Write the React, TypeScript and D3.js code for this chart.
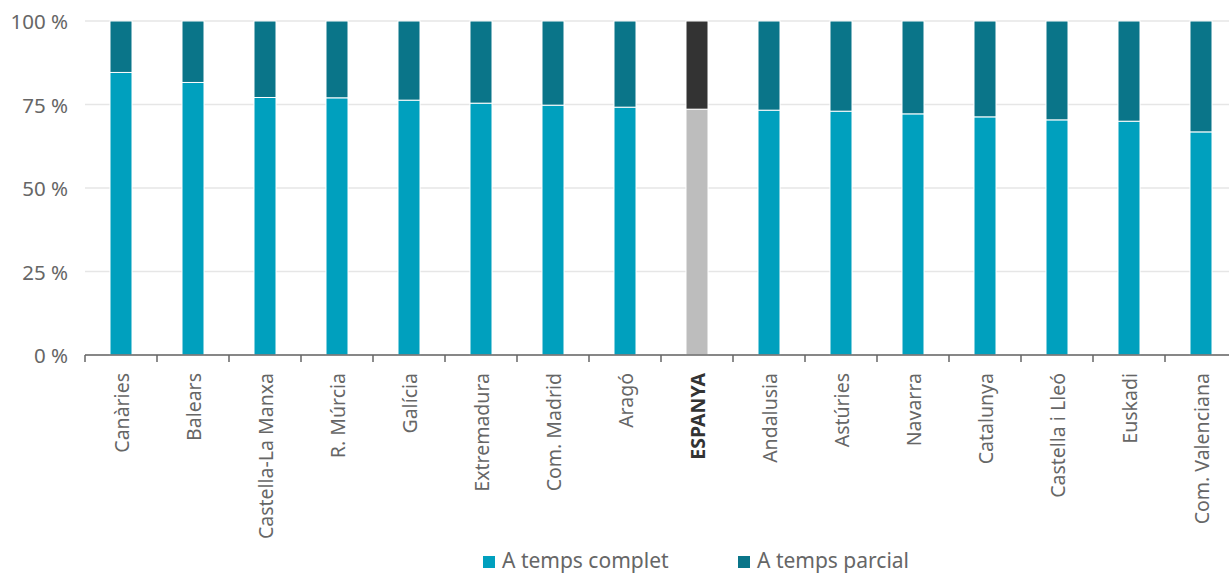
import React from "react";
import * as d3 from "d3";

const categories = ["Canàries","Balears","Castella-La Manxa","R. Múrcia","Galícia","Extremadura","Com. Madrid","Aragó","ESPANYA","Andalusia","Astúries","Navarra","Catalunya","Castella i Lleó","Euskadi","Com. Valenciana"];
const complet = [84.6,81.6,77.1,77.0,76.3,75.4,74.8,74.2,73.6,73.3,73.0,72.2,71.3,70.4,70.0,66.8];
const parcial = complet.map(v => 100 - v);
const yTicks = [0,25,50,75,100];
const seriesNames = ["A temps complet","A temps parcial"];

const W = 1229, H = 574;
const FONT = "'Noto Sans', sans-serif";

export default function App() {
  const x = d3.scaleBand<string>().domain(categories).range([85, 85 + 16 * 72]).paddingInner(0).paddingOuter(0);
  const y = d3.scaleLinear().domain([0, 100]).range([355, 21]);
  const bw = 22;
  const stack = d3.stack<any>().keys(["c","p"])(categories.map((c, i) => ({ cat: c, c: complet[i], p: parcial[i] })));
  const colors: Record<string, string[]> = { c: ["#00A0BE", "#BDBDBD"], p: ["#0A7589", "#333333"] };
  return (
    <svg width={W} height={H} style={{ position: "absolute", left: 0, top: 0, background: "#fff" }}>
      <g>
        {yTicks.map(t => (
          <g key={t}>
            <line x1={85} x2={W} y1={y(t)} y2={y(t)} stroke="#e6e6e6" strokeWidth={1.3} />
            <text x={68} y={y(t)} textAnchor="end" dominantBaseline="central" fontFamily={FONT} fontSize={20.5} fill="#666">{t} %</text>
          </g>
        ))}
      </g>
      {stack.map(s => (
        <g key={s.key}>
          {s.map((d, i) => {
            const cat = categories[i];
            const isEsp = cat === "ESPANYA";
            const cx = (x(cat) as number) + x.bandwidth() / 2;
            return (
              <rect key={cat} x={cx - bw / 2} width={bw} y={y(d[1])} height={y(d[0]) - y(d[1])}
                fill={colors[s.key][isEsp ? 1 : 0]} stroke="#fff" strokeWidth={1} />
            );
          })}
        </g>
      ))}
      <line x1={85} x2={W} y1={355} y2={355} stroke="#666" strokeWidth={1.5} />
      {categories.map((c, i) => (
        <line key={"t" + i} x1={x(c) as number} x2={x(c) as number} y1={355} y2={362} stroke="#666" strokeWidth={1.5} />
      ))}
      {categories.map(c => {
        const cx = (x(c) as number) + x.bandwidth() / 2;
        const isEsp = c === "ESPANYA";
        return (
          <text key={"l" + c} transform={`translate(${cx},373) rotate(-90)`} textAnchor="end" dominantBaseline="central"
            fontFamily={FONT} fontSize={19.5} fill={isEsp ? "#333" : "#666"} fontWeight={isEsp ? "bold" : "normal"}>{c}</text>
        );
      })}
      <g>
        <rect x={483} y={556} width={12} height={12} fill="#00A0BE" />
        <text x={502} y={560} dominantBaseline="central" fontFamily={FONT} fontSize={21} fill="#666">{seriesNames[0]}</text>
        <rect x={738} y={556} width={12} height={12} fill="#0A7589" />
        <text x={757} y={560} dominantBaseline="central" fontFamily={FONT} fontSize={21} fill="#666">{seriesNames[1]}</text>
      </g>
    </svg>
  );
}
